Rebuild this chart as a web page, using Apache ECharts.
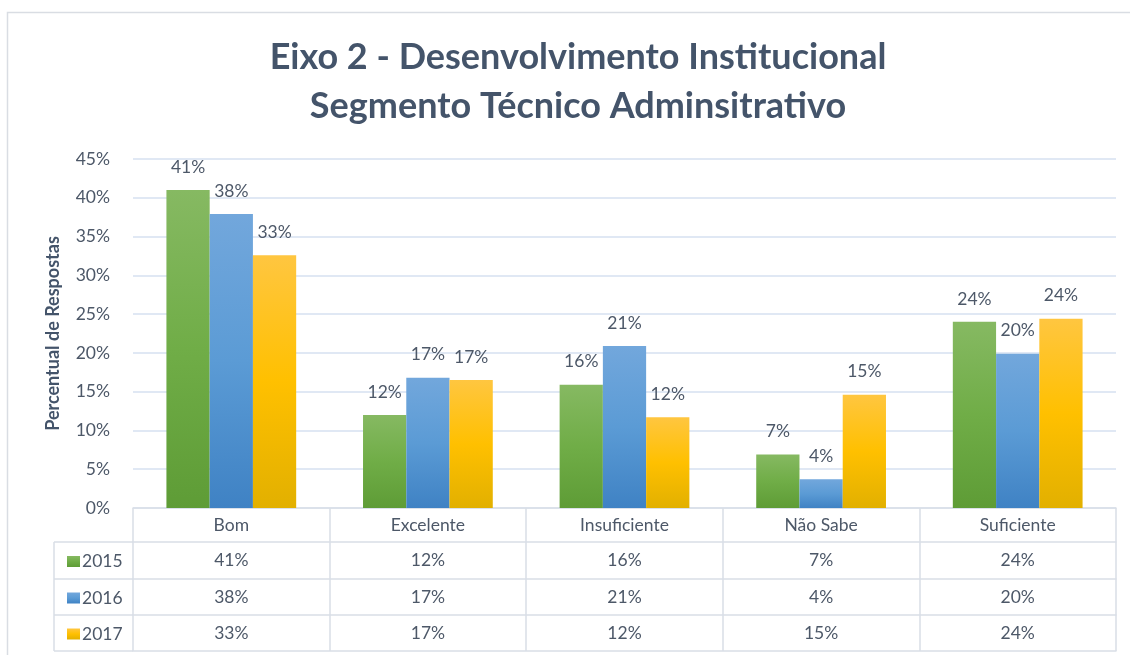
<!DOCTYPE html>
<html>
<head>
<meta charset="utf-8">
<script src="https://cdn.jsdelivr.net/npm/echarts@6/dist/echarts.min.js"></script>
<style>html,body{margin:0;padding:0;background:#fff;}#c{width:1130px;height:655px;}</style>
</head>
<body>
<div id="c"></div>
<script>
var categories = ['Bom', 'Excelente', 'Insuficiente', 'Não Sabe', 'Suficiente'];
var seriesNames = ['2015', '2016', '2017'];
var s2015 = [41.0, 12.0, 15.9, 6.9, 24.0];
var s2016 = [37.9, 16.8, 20.9, 3.7, 19.9];
var s2017 = [32.6, 16.5, 11.7, 14.6, 24.4];
var yTicks = [0, 5, 10, 15, 20, 25, 30, 35, 40, 45];

var FONT = 'Lato';
var TXT = '#4d5868';
var LINE = '#d9dee6';
var FS = 17.5;
var GRID = { left: 133, right: 14, top: 159, bottom: 147 };
var H = 655, W = 1130;
var baseY = H - GRID.bottom;
// table row lines offsets below the axis baseline
var rowOffsets = [0, 34, 71, 107, 143];

function pct(v) { return Math.round(v) + '%'; }

var colors = [
  ['#86b962', '#70ad47', '#5e9c36'],
  ['#72a7dc', '#5b9bd5', '#3f82c4'],
  ['#ffc640', '#ffc000', '#e2b000']
];
function grad(c) {
  return new echarts.graphic.LinearGradient(0, 0, 0, 1, [
    { offset: 0, color: c[0] }, { offset: 0.5, color: c[1] }, { offset: 1, color: c[2] }
  ]);
}

var rows = [s2015, s2016, s2017];
var xAxes = [];
for (var r = 0; r < 4; r++) {
  (function (r) {
    var h = rowOffsets[r + 1] - rowOffsets[r];
    xAxes.push({
      type: 'category',
      data: categories,
      position: 'bottom',
      offset: rowOffsets[r],
      axisLine: { show: true, lineStyle: { color: LINE, width: 1.5 } },
      axisTick: { show: true, length: h, lineStyle: { color: LINE, width: 1.5 } },
      axisLabel: {
        interval: 0,
        margin: h / 2,
        verticalAlign: 'middle',
        color: TXT,
        fontFamily: FONT,
        fontSize: FS,
        formatter: function (v, i) { return r === 0 ? v : pct(rows[r - 1][i]); }
      },
      splitLine: { show: false }
    });
  })(r);
}
xAxes.push({
  type: 'category', data: categories, position: 'bottom', offset: rowOffsets[4],
  axisLine: { show: true, lineStyle: { color: LINE, width: 1.5 } },
  axisTick: { show: false }, axisLabel: { show: false }
});

var legends = seriesNames.map(function (n, i) {
  var cy = baseY + (rowOffsets[i + 1] + rowOffsets[i + 2]) / 2;
  return {
    data: [n], left: 62, top: cy - 13, itemWidth: 13, itemHeight: 11, itemGap: 0,
    icon: 'rect', selectedMode: false,
    textStyle: { color: TXT, fontFamily: FONT, fontSize: FS, padding: [0, 0, 0, -3] }
  };
});

var seriesData = [s2015, s2016, s2017];
var series = seriesNames.map(function (n, i) {
  return {
    name: n, type: 'bar', data: seriesData[i],
    barGap: '0%', barCategoryGap: '34%',
    itemStyle: { color: grad(colors[i]) },
    label: {
      show: true, position: 'top', distance: 14, color: TXT, fontFamily: FONT, fontSize: FS,
      formatter: function (p) { return pct(p.value); }
    }
  };
});

var chart = echarts.init(document.getElementById('c'), null, { renderer: 'canvas' });
chart.setOption({
  backgroundColor: '#fff',
  animation: false,
  color: [colors[0][1], colors[1][1], colors[2][1]],
  title: {
    text: 'Eixo 2 - Desenvolvimento Institucional\nSegmento Técnico Adminsitrativo',
    left: 573, top: 28, textAlign: 'center',
    textStyle: { color: '#44546a', fontFamily: FONT, fontSize: 36, fontWeight: 'bold', lineHeight: 49 }
  },
  legend: legends,
  grid: { left: GRID.left, right: GRID.right, top: GRID.top, bottom: GRID.bottom, containLabel: false },
  xAxis: xAxes,
  yAxis: {
    type: 'value', min: 0, max: 45, interval: 5,
    name: 'Percentual de Respostas', nameLocation: 'middle', nameGap: 71,
    nameTextStyle: { color: '#44546a', fontFamily: FONT, fontSize: 18, fontWeight: 'bold' },
    axisLine: { show: false }, axisTick: { show: false },
    axisLabel: { color: TXT, fontFamily: FONT, fontSize: FS, margin: 23, formatter: function (v) { return yTicks.indexOf(v) >= 0 ? v + '%' : ''; } },
    splitLine: { lineStyle: { color: '#d6e0f0', width: 1.5 } }
  },
  series: series,
  graphic: [
    { type: 'rect', shape: { x: 7.5, y: 12.5, width: W, height: H }, style: { fill: 'none', stroke: '#d9dde3', lineWidth: 1.5 }, silent: true },
    { type: 'line', shape: { x1: 54, y1: baseY + rowOffsets[1], x2: GRID.left, y2: baseY + rowOffsets[1] }, style: { stroke: LINE, lineWidth: 1.5 } },
    { type: 'line', shape: { x1: 54, y1: baseY + rowOffsets[2], x2: GRID.left, y2: baseY + rowOffsets[2] }, style: { stroke: LINE, lineWidth: 1.5 } },
    { type: 'line', shape: { x1: 54, y1: baseY + rowOffsets[3], x2: GRID.left, y2: baseY + rowOffsets[3] }, style: { stroke: LINE, lineWidth: 1.5 } },
    { type: 'line', shape: { x1: 54, y1: baseY + rowOffsets[4], x2: GRID.left, y2: baseY + rowOffsets[4] }, style: { stroke: LINE, lineWidth: 1.5 } },
    { type: 'line', shape: { x1: 54, y1: baseY + rowOffsets[1], x2: 54, y2: baseY + rowOffsets[4] }, style: { stroke: LINE, lineWidth: 1.5 } }
  ]
});
</script>
</body>
</html>
